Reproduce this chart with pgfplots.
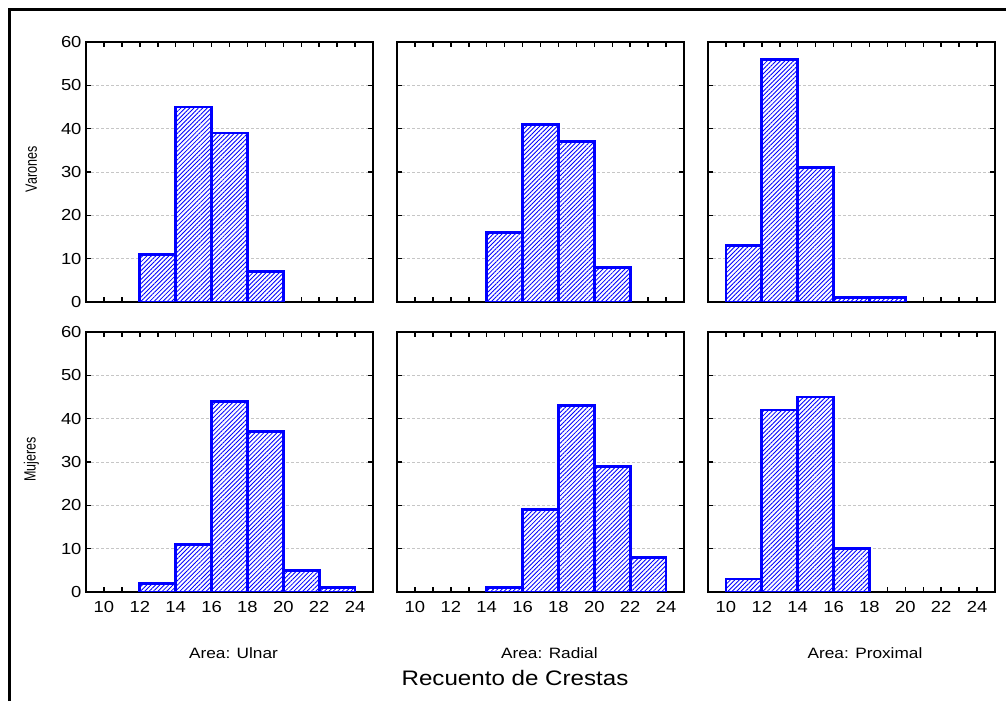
\documentclass[border=0pt]{standalone}
\usepackage{pgfplots}
\pgfplotsset{compat=1.18}
\usepackage{fontspec}
\setmainfont{Liberation Sans}[FakeStretch=1.15]
\newfontfamily\plainfont{Liberation Sans}
\usetikzlibrary{patterns.meta}

\pgfplotsset{
  panel/.style={
    width=287pt, height=260pt, scale only axis,
    xmin=9, xmax=25, ymin=0, ymax=60,
    xtick={10,12,...,24}, minor xtick={11,13,...,23},
    ytick={0,10,...,60},
    tick align=inside, tick pos=both,
    axis line style={line width=2pt},
    major tick length=5pt, minor tick length=5pt,
    every tick/.style={black, line width=1.5pt},
    ymajorgrids,
    grid style={gray!45, dash pattern=on 3pt off 2pt, line width=0.8pt},
    tick label style={font=\fontsize{16}{16}\selectfont},
    xticklabel style={yshift=-6pt},
    yticklabel style={xshift=-1pt},
    /pgf/number format/assume math mode=true,
    xlabel style={anchor=base, font=\fontsize{15}{15}\selectfont},
    ylabel style={at={(axis description cs:-0.19,0.51)}, anchor=center, font=\plainfont\fontsize{12.5}{12.5}\selectfont},
  },
  hist/.style={ybar interval, draw=blue, line width=2.8pt, fill=white,
    postaction={pattern={Lines[angle=45,distance=3.1pt,line width=0.85pt]}, pattern color=blue}},
}

\begin{document}
\begin{tikzpicture}[x=1pt,y=1pt]
\path[use as bounding box] (0,0) rectangle (1006,701);
\draw[line width=3pt] (9.5,0) -- (9.5,691) -- (1006,691);

% Row 1: Varones
\begin{axis}[panel, at={(86pt,659pt)}, anchor=north west, xticklabels={}, ylabel={\scalebox{1}[1.3]{Varones}}]
\addplot[hist] coordinates {(12,11) (14,45) (16,39) (18,7) (20,0)};
\end{axis}
\begin{axis}[panel, at={(397pt,659pt)}, anchor=north west, xticklabels={}, yticklabels={}]
\addplot[hist] coordinates {(14,16) (16,41) (18,37) (20,8) (22,0)};
\end{axis}
\begin{axis}[panel, at={(708pt,659pt)}, anchor=north west, xticklabels={}, yticklabels={}]
\addplot[hist] coordinates {(10,13) (12,56) (14,31) (16,1) (18,1) (20,0)};
\end{axis}

% Row 2: Mujeres
\begin{axis}[panel, at={(86pt,369pt)}, anchor=north west, ylabel={\scalebox{1}[1.3]{Mujeres}},
  xlabel={Area: Ulnar}, xlabel style={at={(axis description cs:0.514,-0.255)}}]
\addplot[hist] coordinates {(12,2) (14,11) (16,44) (18,37) (20,5) (22,1) (24,0)};
\end{axis}
\begin{axis}[panel, at={(397pt,369pt)}, anchor=north west, yticklabels={},
  xlabel={Area: Radial}, xlabel style={at={(axis description cs:0.531,-0.255)}}]
\addplot[hist] coordinates {(14,1) (16,19) (18,43) (20,29) (22,8) (24,0)};
\end{axis}
\begin{axis}[panel, at={(708pt,369pt)}, anchor=north west, yticklabels={},
  xlabel={Area: Proximal}, xlabel style={at={(axis description cs:0.547,-0.255)}}]
\addplot[hist] coordinates {(10,3) (12,42) (14,45) (16,10) (18,0)};
\end{axis}

\node[anchor=base, font=\fontsize{21}{21}\selectfont] at (515,16) {Recuento de Crestas};
\end{tikzpicture}
\end{document}
